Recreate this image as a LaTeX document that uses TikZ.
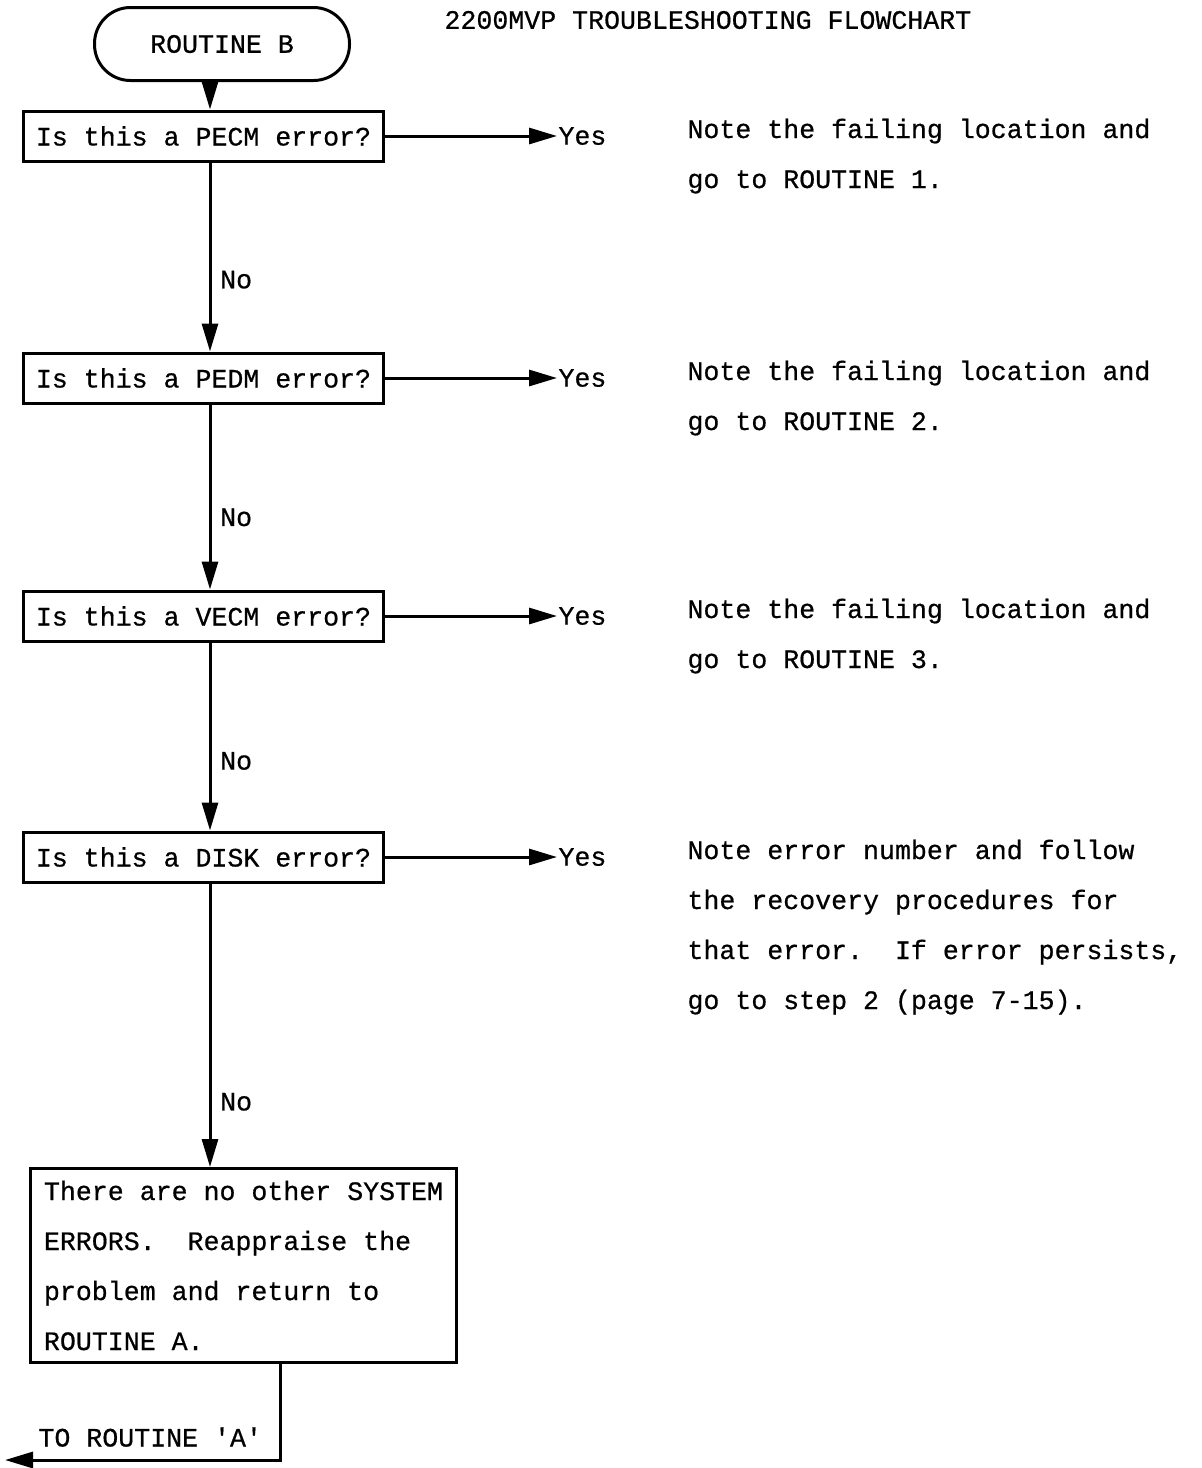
\documentclass[tikz,border=0pt]{standalone}
\usepackage{fontspec}
\setmainfont{Liberation Mono}[FakeBold=0.6, WordSpace={1,0,0}]
\usetikzlibrary{arrows.meta, positioning}
\frenchspacing
\tikzset{
  every picture/.style={line width=1.5pt, font=\fontsize{13.3}{25}\selectfont},
  terminal/.style={draw, rounded corners=18pt, minimum width=127.5pt, minimum height=36.5pt},
  question/.style={draw, anchor=west, minimum width=180pt, inner xsep=4pt, minimum height=25pt},
  answer/.style={anchor=west, inner sep=0pt},
  note/.style={anchor=base west, inner sep=0pt, align=left},
  arrow/.style={-{Triangle[length=14pt, width=8pt]}},
}

\begin{document}
\begin{tikzpicture}[x=0.5pt, y=-0.5pt]
  \useasboundingbox (0,0) rectangle (1202,1468);
  \coordinate (spine) at (210,0);
  \node[answer] (title) at (443,20) {2200MVP TROUBLESHOOTING FLOWCHART};
  \node[terminal] (start) at (222,44) {ROUTINE B};
  % one question per error type, answer and note to the right
  \foreach \n/\y/\q/\k/\t in {1/136/PECM/2/{Note the failing location and\\go to ROUTINE 1.},
      2/378/PEDM/2/{Note the failing location and\\go to ROUTINE 2.},
      3/616/VECM/2/{Note the failing location and\\go to ROUTINE 3.},
      4/857/DISK/4/{Note error number and follow\\the recovery procedures for\\that error.~~If error persists,\\go to step 2 (page 7-15).}}
    { \node[question] (q\n) at (22,\y) {Is this a \q\ error?};
      \node[answer] (y\n) at (557,\y) {Yes};
      \draw[arrow] (q\n) -- (y\n);
      \node[note] (n\n) at ({686},{\y+2+(\k-1)*50}) {\t}; }
  \node[draw, anchor=north west, minimum width=213pt, inner xsep=4pt, minimum height=97pt, align=left] (done) at (29,1167)
    {There are no other SYSTEM\\ERRORS.~~Reappraise the\\problem and return to\\ROUTINE A.};
  % the No branch down the left
  \draw[arrow] (start.south -| spine) -- (q1.north -| spine);
  \foreach \a/\b/\p in {1/q2/0.62, 2/q3/0.61, 3/q4/0.63, 4/done/0.77}
    \draw[arrow] (q\a.south -| spine) -- (\b.north -| spine) node[pos=\p, right=1pt] (no\a) {No};
  % back to routine A
  \coordinate (turn) at (280,1460);
  \coordinate (back) at (5,1460);
  \draw[arrow] (done.south -| turn) -- (turn) -- (back);
  \node[answer] (toa) at (37,1437) {TO ROUTINE \textquotesingle A\textquotesingle};
\end{tikzpicture}
\end{document}
